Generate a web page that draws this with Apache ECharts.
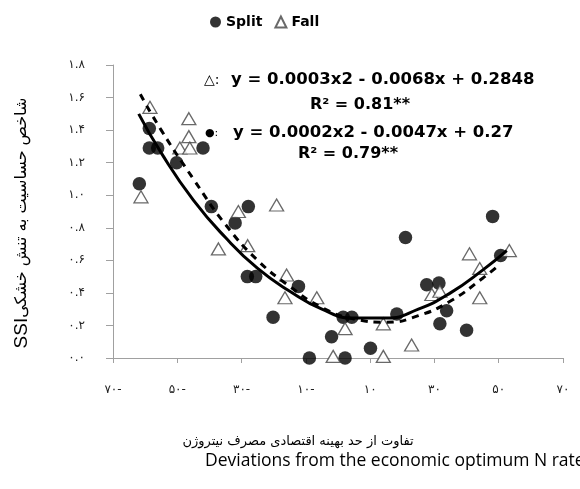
<!DOCTYPE html>
<html>
<head>
<meta charset="utf-8">
<script src="https://cdn.jsdelivr.net/npm/echarts@6/dist/echarts.min.js"></script>
<style>
  html, body { margin: 0; padding: 0; background: #fff; }
  #chart { width: 580px; height: 489px; }
</style>
</head>
<body>
<div id="chart"></div>
<script>
// Split (filled circles)
const splitX = [-61.8, -58.7, -58.7, -56.1, -50.2, -42.0, -39.4, -32.0, -27.9, -28.2, -25.6, -20.2, -12.3, -8.9,
  -2.0, 1.6, 4.3, 2.2, 10.1, 18.3, 21.0, 27.6, 31.4, 33.8, 31.7, 40.0, 48.1, 50.6];
const splitY = [1.07, 1.41, 1.29, 1.29, 1.20, 1.29, 0.93, 0.83, 0.93, 0.50, 0.50, 0.25, 0.44, 0.00,
  0.13, 0.25, 0.25, 0.00, 0.06, 0.27, 0.74, 0.45, 0.46, 0.29, 0.21, 0.17, 0.87, 0.63];

// Fall (open triangles)
const fallX = [-58.5, -46.4, -46.4, -49.2, -46.1, -61.3, -31.0, -19.1, -37.2, -28.1, -16.0, -16.5,
  -6.6, -1.5, 2.2, 14.1, 14.1, 22.9, 29.2, 31.7, 40.9, 44.1, 44.1, 53.3];
const fallY = [1.54, 1.47, 1.36, 1.29, 1.29, 0.99, 0.90, 0.94, 0.67, 0.69, 0.51, 0.37,
  0.37, 0.01, 0.18, 0.21, 0.01, 0.08, 0.39, 0.41, 0.64, 0.55, 0.37, 0.66];

// trend curves
const trendSolidX = [-62, -55, -45, -35, -25, -15, -5, 5, 15, 25, 35, 45, 52.5];
const trendSolidY = [1.50, 1.26, 0.97, 0.74, 0.55, 0.41, 0.30, 0.245, 0.245, 0.30, 0.40, 0.54, 0.66];
const trendDashedX = [-61.5, -55, -45, -35, -25, -15, -5, 5, 15, 25, 35, 45, 50];
const trendDashedY = [1.62, 1.40, 1.10, 0.82, 0.60, 0.44, 0.31, 0.24, 0.22, 0.26, 0.35, 0.49, 0.57];

const xTicks = [-70, -50, -30, -10, 10, 30, 50, 70];

const faDigits = '۰۱۲۳۴۵۶۷۸۹';
function toFa(s) {
  return String(s).replace(/[0-9]/g, d => faDigits[d]);
}
function pairs(xs, ys) {
  return xs.map((x, i) => [x, ys[i]]);
}

const chart = echarts.init(document.getElementById('chart'));
const axisGrey = '#a0a0a0';

const option = {
  animation: false,
  backgroundColor: '#fff',
  grid: { left: 113, right: 17, top: 65, bottom: 131 },
  legend: {
    data: ['Split', 'Fall'],
    left: 205,
    top: 10,
    itemWidth: 11,
    itemHeight: 11,
    itemGap: 12,
    textStyle: { fontFamily: 'DejaVu Sans', fontWeight: 'bold', fontSize: 14, color: '#000' }
  },
  xAxis: {
    type: 'value',
    min: -70,
    max: 70,
    splitLine: { show: false },
    axisLine: { onZero: false, lineStyle: { color: axisGrey } },
    axisTick: { customValues: xTicks, length: 5, lineStyle: { color: axisGrey } },
    axisLabel: {
      customValues: xTicks,
      margin: 26,
      fontFamily: 'DejaVu Sans',
      fontSize: 12,
      color: '#222',
      formatter: v => toFa(Math.abs(v)) + (v < 0 ? '-' : '')
    }
  },
  yAxis: {
    type: 'value',
    min: 0,
    max: 1.8,
    interval: 0.2,
    splitLine: { show: false },
    axisLine: { show: true, onZero: false, lineStyle: { color: axisGrey } },
    axisTick: { show: true, length: 7, lineStyle: { color: axisGrey } },
    axisLabel: {
      margin: 28,
      fontFamily: 'DejaVu Sans',
      fontSize: 12,
      color: '#222',
      formatter: v => toFa(v.toFixed(1))
    }
  },
  series: [
    {
      name: 'Split',
      type: 'scatter',
      symbol: 'circle',
      symbolSize: 13.5,
      itemStyle: { color: '#000' },
      data: pairs(splitX, splitY),
      z: 3
    },
    {
      name: 'Fall',
      type: 'scatter',
      symbol: 'triangle',
      symbolSize: [14, 12],
      itemStyle: { color: '#fff', borderColor: '#444', borderWidth: 1.3 },
      data: pairs(fallX, fallY),
      z: 4
    },
    {
      name: 'trendSolid',
      type: 'line',
      smooth: true,
      showSymbol: false,
      lineStyle: { color: '#000', width: 3 },
      data: pairs(trendSolidX, trendSolidY),
      z: 5
    },
    {
      name: 'trendDashed',
      type: 'line',
      smooth: true,
      showSymbol: false,
      lineStyle: { color: '#000', width: 3, type: [7, 6] },
      data: pairs(trendDashedX, trendDashedY),
      z: 5
    }
  ],
  graphic: [
    // equation labels
    { type: 'text', x: 204, y: 80, style: { text: '△:', fontFamily: 'DejaVu Sans', fontSize: 14, fill: '#000', verticalAlign: 'middle' } },
    { type: 'text', x: 231, y: 80, style: { text: 'y = 0.0003x2 - 0.0068x + 0.2848', fontFamily: 'DejaVu Sans', fontWeight: 'bold', fontSize: 16.5, fill: '#000', verticalAlign: 'middle' } },
    { type: 'text', x: 360, y: 105, style: { text: 'R² = 0.81**', fontFamily: 'DejaVu Sans', fontWeight: 'bold', fontSize: 16, fill: '#000', align: 'center', verticalAlign: 'middle' } },
    { type: 'text', x: 205, y: 133, style: { text: '●:', fontFamily: 'DejaVu Sans', fontSize: 11, fill: '#000', verticalAlign: 'middle' } },
    { type: 'text', x: 233, y: 133, style: { text: 'y = 0.0002x2 - 0.0047x + 0.27', fontFamily: 'DejaVu Sans', fontWeight: 'bold', fontSize: 16.5, fill: '#000', verticalAlign: 'middle' } },
    { type: 'text', x: 348, y: 154, style: { text: 'R² = 0.79**', fontFamily: 'DejaVu Sans', fontWeight: 'bold', fontSize: 16, fill: '#000', align: 'center', verticalAlign: 'middle' } },
    // y axis name
    {
      type: 'text', x: 22, y: 223, rotation: Math.PI / 2,
      style: {
        text: '{a|SSI}{b|شاخص حساسیت به تنش خشکی}',
        align: 'center', verticalAlign: 'middle',
        rich: {
          a: { fontFamily: 'Liberation Sans', fontSize: 19, fill: '#000' },
          b: { fontFamily: 'DejaVu Sans', fontSize: 16, fill: '#000' }
        }
      }
    },
    // x axis names
    { type: 'text', x: 298, y: 442, style: { text: 'تفاوت از حد بهینه اقتصادی مصرف نیتروژن', fontFamily: 'DejaVu Sans', fontSize: 13, fill: '#000', align: 'center', verticalAlign: 'middle' } },
    { type: 'text', x: 205, y: 461, style: { text: 'Deviations from the economic optimum N rate', fontFamily: 'Open Sans', fontSize: 17.5, fill: '#000', verticalAlign: 'middle' } }
  ]
};

chart.setOption(option);
</script>
</body>
</html>
